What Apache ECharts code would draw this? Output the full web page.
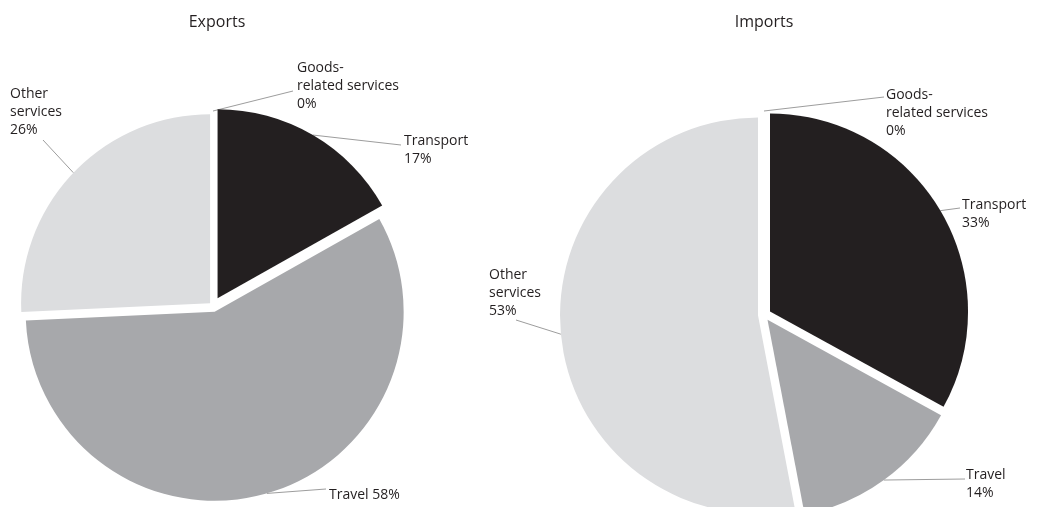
<!DOCTYPE html>
<html>
<head>
<meta charset="utf-8">
<script src="https://cdn.jsdelivr.net/npm/echarts@6/dist/echarts.min.js"></script>
<style>
  html, body { margin: 0; padding: 0; background: #ffffff; }
  #chart { width: 1044px; height: 507px; }
</style>
</head>
<body>
<div id="chart"></div>
<script>
// Services trade by category, share of total (%)
const categories = ['Goods-related services', 'Transport', 'Travel', 'Other services'];
const exportsShare = [0, 17, 58, 26];
const importsShare = [0, 33, 14, 53];
const panelTitles = ['Exports', 'Imports'];
// Category names as they are wrapped in the slice labels
const labelNames = ['Goods-\nrelated services', 'Transport', 'Travel', 'Other\nservices'];

const sliceColors = ['#231f20', '#231f20', '#a7a8ab', '#dcdddf'];
const textColor = '#231f20';
const fontFamily = '"Open Sans", Lato, sans-serif';

// Layout of each pie: base centre, radius, how far each slice is pulled out,
// and where each label block sits with the end of its leader line.
const panels = [
  {
    title: panelTitles[0], titleX: 217,
    values: exportsShare,
    center: [213, 306], radius: 189,
    explode: [6, 9, 6, 4],
    sep: ['\n', '\n', ' ', '\n'],
    labels: [
      { x: 297, y: 59,  end: [293, 91] },
      { x: 404, y: 132, end: [401, 145] },
      { x: 329, y: 486, end: [326, 489] },
      { x: 10,  y: 85,  end: [43, 140] }
    ]
  },
  {
    title: panelTitles[1], titleX: 764,
    values: importsShare,
    center: [764, 315], radius: 198,
    explode: [6, 7, 6, 6],
    sep: ['\n', '\n', '\n', '\n'],
    labels: [
      { x: 886, y: 86,  end: [884, 97] },
      { x: 962, y: 196, end: [960, 208] },
      { x: 966, y: 466, end: [965, 479] },
      { x: 489, y: 266, end: [516, 320] }
    ]
  }
];

const series = [];
panels.forEach(function (p) {
  const total = p.values.reduce(function (a, b) { return a + b; }, 0);
  let acc = 0;
  p.values.forEach(function (v, k) {
    // each slice gets its own pie, shifted outward along its mid-angle
    const mid = (acc + v / 2) / total * 2 * Math.PI;
    acc += v;
    const d = p.explode[k];
    const cx = p.center[0] + d * Math.sin(mid);
    const cy = p.center[1] - d * Math.cos(mid);
    const lab = p.labels[k];
    series.push({
      type: 'pie',
      center: [cx, cy],
      radius: p.radius,
      startAngle: 90,
      clockwise: true,
      animation: false,
      avoidLabelOverlap: false,
      silent: true,
      minShowLabelAngle: 0,
      data: p.values.map(function (val, j) {
        const own = j === k;
        return {
          name: categories[j],
          value: val,
          itemStyle: { color: own ? sliceColors[j] : 'rgba(0,0,0,0)', borderWidth: 0 },
          label: own ? {
            show: true,
            position: 'outside',
            formatter: labelNames[j] + p.sep[j] + val + '%',
            color: textColor,
            fontFamily: fontFamily,
            fontSize: 14,
            lineHeight: 18
          } : { show: false },
          labelLine: own ? {
            show: true,
            length: 4,
            length2: 4,
            lineStyle: { color: '#9d9d9d', width: 1 }
          } : { show: false }
        };
      }),
      labelLayout: function (params) {
        if (params.dataIndex !== k) return {};
        let start = params.labelLinePoints && params.labelLinePoints[0];
        if (!start) {
          start = [cx + p.radius * Math.sin(mid), cy - p.radius * Math.cos(mid)];
        }
        return {
          x: lab.x,
          y: lab.y,
          align: 'left',
          verticalAlign: 'top',
          labelLinePoints: [start, lab.end, lab.end]
        };
      }
    });
  });
});

const chart = echarts.init(document.getElementById('chart'), null, { renderer: 'canvas' });
chart.setOption({
  backgroundColor: '#ffffff',
  animation: false,
  graphic: panels.map(function (p) {
    return {
      type: 'text',
      x: p.titleX,
      y: 22,
      style: {
        text: p.title,
        fill: textColor,
        font: '16px ' + fontFamily,
        textAlign: 'center',
        textVerticalAlign: 'middle'
      }
    };
  }),
  series: series
});
</script>
</body>
</html>
